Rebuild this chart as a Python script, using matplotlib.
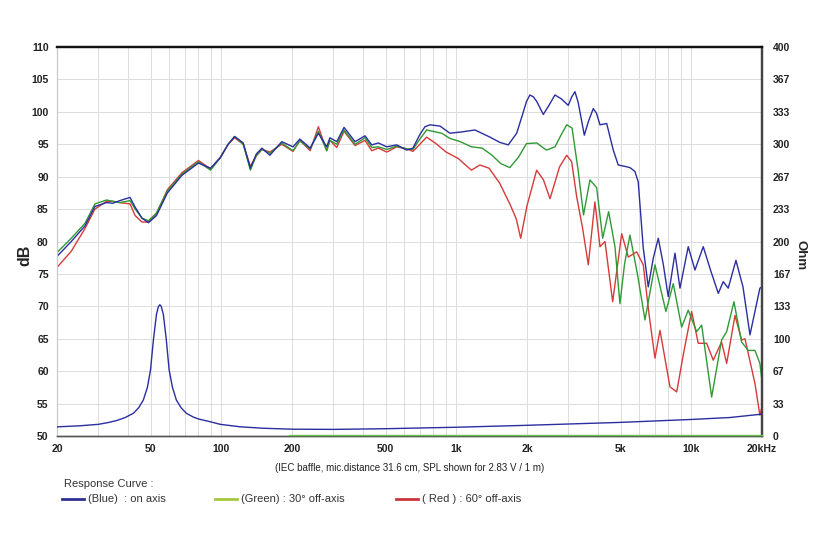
import numpy as np
import matplotlib
matplotlib.use("Agg")
import matplotlib.pyplot as plt
from matplotlib.ticker import FixedLocator, NullFormatter

# frequency response, dB SPL
blue_f = [20, 23, 26.3, 29, 32.5, 34.6, 37, 40.9, 43, 46,
          49, 53, 59, 68, 80, 90, 99, 107, 114, 124,
          133, 141, 149, 161, 181, 202, 216, 239, 259, 281,
          290, 310, 333, 371, 409, 437, 466, 506, 558, 615,
          654, 700, 736, 773, 853, 940, 1054, 1201, 1391, 1530,
          1664, 1808, 1930, 1990, 2058, 2130, 2200, 2346, 2480, 2630,
          2800, 2996, 3100, 3200, 3300, 3507, 3650, 3828, 3950, 4089,
          4366, 4657, 4889, 5200, 5484, 5759, 5947, 6248, 6562, 6900,
          7238, 7600, 7980, 8526, 8954, 9708, 10368, 11246, 12100, 13032,
          13680, 14365, 15492, 16600, 17777, 19590, 20000]
blue_db = [77.7, 80.0, 82.4, 85.4, 86.0, 85.9, 86.3, 86.8, 85.3, 83.6,
           82.9, 84.0, 87.5, 90.2, 92.1, 91.3, 92.9, 95.0, 96.2, 95.2,
           91.3, 93.5, 94.4, 93.3, 95.4, 94.6, 95.8, 94.4, 96.7, 94.6,
           96.0, 95.4, 97.6, 95.4, 96.3, 94.9, 95.2, 94.6, 94.9, 94.1,
           94.4, 96.5, 97.7, 98.0, 97.8, 96.7, 96.9, 97.2, 96.1, 95.3,
           94.9, 96.7, 100.0, 101.6, 102.6, 102.3, 101.6, 99.6, 101.0, 102.6,
           102.0, 101.0, 102.3, 103.1, 101.5, 96.4, 98.5, 100.5, 99.8, 98.0,
           98.2, 94.1, 91.8, 91.6, 91.4, 90.8, 89.2, 79.0, 73.0, 77.5,
           80.5, 76.5, 71.5, 78.2, 72.8, 79.2, 75.6, 79.2, 75.5, 72.0,
           73.8, 72.8, 77.1, 73.0, 65.6, 72.8, 73.0]

green_f = [20, 23, 26.3, 29, 32.5, 34.6, 37, 40.9, 43, 46,
           49, 53, 59, 68, 80, 90, 99, 107, 114, 124,
           133, 141, 149, 161, 181, 202, 216, 239, 259, 281,
           290, 310, 333, 371, 409, 437, 466, 506, 558, 615,
           654, 700, 748, 867, 940, 1040, 1160, 1290, 1420, 1550,
           1690, 1840, 1990, 2200, 2420, 2630, 2800, 2950, 3110, 3300,
           3480, 3706, 3958, 4198, 4450, 4735, 4972, 5200, 5484, 5900,
           6354, 7007, 7801, 8383, 9101, 9708, 10544, 11072, 12212, 13461,
           14148, 15192, 16376, 17482, 18666, 19590, 20000]
green_db = [78.3, 80.5, 82.8, 85.8, 86.4, 86.2, 86.0, 86.3, 85.0, 83.6,
            83.2, 84.4, 87.8, 90.4, 92.3, 91.0, 92.9, 95.0, 96.2, 95.0,
            91.0, 93.3, 94.2, 93.6, 95.2, 94.0, 95.5, 94.3, 97.0, 94.0,
            95.6, 95.0, 97.2, 95.0, 96.0, 94.5, 94.6, 94.2, 94.7, 94.3,
            94.2, 95.8, 97.2, 96.7, 95.9, 95.4, 94.6, 94.4, 93.3, 92.0,
            91.4, 93.0, 95.1, 95.2, 94.1, 94.6, 96.5, 98.0, 97.5, 91.0,
            84.1, 89.5, 88.3, 80.5, 84.6, 79.2, 70.4, 76.5, 81.0, 75.0,
            67.9, 76.4, 69.2, 73.5, 66.8, 69.4, 66.1, 67.1, 56.0, 64.8,
            66.1, 70.7, 64.5, 63.2, 63.2, 61.2, 58.5]

red_f = [20, 23, 26.3, 29, 32.5, 34.6, 37, 40.9, 43, 46,
         49, 53, 59, 68, 80, 90, 99, 107, 114, 124,
         133, 141, 149, 161, 181, 202, 216, 239, 259, 281,
         290, 310, 333, 371, 409, 437, 466, 506, 558, 615,
         654, 700, 748, 820, 905, 1020, 1160, 1260, 1380, 1530,
         1700, 1800, 1880, 2000, 2198, 2350, 2506, 2750, 2950, 3098,
         3254, 3450, 3646, 3891, 4089, 4294, 4630, 5057, 5396, 5857,
         6248, 6600, 7007, 7361, 8114, 8670, 9300, 10038, 10710, 11628,
         12404, 13461, 14148, 15348, 16376, 16929, 18666, 19590, 20000]
red_db = [76.0, 78.5, 82.0, 85.0, 86.2, 86.2, 86.0, 85.8, 84.0, 83.0,
          83.0, 84.3, 88.0, 90.6, 92.5, 91.2, 93.0, 95.0, 96.0, 95.0,
          91.6, 93.2, 94.2, 93.8, 95.0, 93.9, 95.6, 94.0, 97.7, 94.0,
          95.6, 94.5, 97.0, 94.8, 95.6, 94.0, 94.4, 93.8, 94.6, 94.3,
          93.9, 95.0, 96.1, 95.1, 93.8, 92.8, 91.0, 91.8, 91.3, 89.0,
          85.6, 83.5, 80.5, 85.5, 91.0, 89.5, 86.6, 91.5, 93.3, 92.3,
          86.9, 82.0, 76.4, 86.1, 79.2, 80.0, 70.7, 81.2, 77.6, 78.4,
          76.4, 69.0, 62.0, 66.3, 57.6, 56.8, 63.0, 69.2, 64.3, 64.3,
          61.7, 64.5, 61.2, 68.6, 64.8, 65.0, 58.1, 53.2, 54.5]

# impedance, ohm
imp_f = [20, 25, 30, 33, 36, 39, 42.3, 44.5, 46.6, 48.5, 50, 51.5, 53, 54, 54.8,
         55.6, 56.7, 58.3, 60, 62, 64.4, 67.5, 71, 76, 80, 89.6, 99,
         120, 150, 200, 300, 500, 1000, 2000, 5000, 10000, 14600, 20000]
imp_ohm = [9.4, 10.5, 12, 13.8, 16, 19, 23.4, 29, 37, 50, 68, 100, 125, 133, 135,
           133, 125, 100, 68, 50, 37, 29, 23.4, 19.5, 17.5, 14.7, 12,
           9.5, 8, 7, 6.8, 7.5, 9, 11, 14, 17, 19, 22.5]
imp2_f = [195, 20000]
imp2_ohm = [0.6, 0.6]

x_ticks = [20, 50, 100, 200, 500, 1000, 2000, 5000, 10000, 20000]
x_labels = ["20", "50", "100", "200", "500", "1k", "2k", "5k", "10k", "20kHz"]
db_ticks = list(range(50, 111, 5))
ohm_ticks = [400 / 12 * i for i in range(13)]
ohm_labels = ["0", "33", "67", "100", "133", "167", "200", "233", "267",
              "300", "333", "367", "400"]

fam = ["Liberation Sans Narrow", "Liberation Sans", "DejaVu Sans"]
plt.rcParams["font.family"] = fam

fig = plt.figure(figsize=(8.25, 5.5), dpi=100)
ax = fig.add_axes([57 / 825, 1 - 436 / 550, (762 - 57) / 825, (436 - 47) / 550])
ax.set_xscale("log")
ax.set_xlim(20, 20000)
ax.set_ylim(50, 110)
ax.set_yticks(db_ticks)
ax.set_xticks(x_ticks)
ax.set_xticklabels(x_labels)
minor = [m * d for d in (10, 100, 1000, 10000) for m in range(2, 10) if 20 < m * d < 20000]
ax.xaxis.set_minor_locator(FixedLocator(minor))
ax.xaxis.set_minor_formatter(NullFormatter())
ax.grid(which="both", color="#dcdcdc", lw=0.7)
ax.set_axisbelow(True)
ax.tick_params(which="both", length=0, labelsize=7.5, labelcolor="#222222", pad=6)
for lab in ax.get_xticklabels() + ax.get_yticklabels():
    lab.set_fontweight("bold")

ax.plot(red_f, red_db, color="#d8393a", lw=1.0, zorder=3)
ax.plot(green_f, green_db, color="#2f9a34", lw=1.0, zorder=4)
ax.plot(blue_f, blue_db, color="#2a2ea0", lw=1.0, zorder=5)

ax2 = ax.twinx()
ax2.set_ylim(0, 400)
ax2.set_yticks(ohm_ticks)
ax2.set_yticklabels(ohm_labels)
ax2.tick_params(length=0, labelsize=7.5, labelcolor="#222222", pad=8)
for lab in ax2.get_yticklabels():
    lab.set_fontweight("bold")
ax2.plot(imp_f, imp_ohm, color="#2a2ea0", lw=1.0, zorder=5)
ax2.plot(imp2_f, imp2_ohm, color="#6cc24a", lw=1.0, zorder=5, clip_on=False)

for a in (ax, ax2):
    a.spines["top"].set_color("#111111")
    a.spines["top"].set_linewidth(1.6)
    a.spines["left"].set_color("#c8c8c8")
    a.spines["left"].set_linewidth(0.8)
    a.spines["right"].set_color("#444444")
    a.spines["right"].set_linewidth(1.6)
    a.spines["bottom"].set_color("#555555")
    a.spines["bottom"].set_linewidth(1.0)

fig.text(25 / 825, 1 - 255 / 550, "dB", rotation=90, fontsize=11.5, fontweight="bold",
         ha="center", va="center", family=["Liberation Sans", "DejaVu Sans"], color="#222222")
fig.text(801 / 825, 1 - 255 / 550, "Ohm", rotation=270, fontsize=9.5, fontweight="bold",
         ha="center", va="center", family=["Liberation Sans", "DejaVu Sans"], color="#222222")

fig.text(410 / 825, 1 - 468 / 550, "(IEC baffle, mic.distance 31.6 cm, SPL shown for 2.83 V / 1 m)",
         fontsize=7, ha="center", va="center", color="#222222")

lf = ["Liberation Sans", "DejaVu Sans"]
fig.text(64 / 825, 1 - 484 / 550, "Response Curve :", fontsize=8, ha="left", va="center",
         family=lf, color="#333333")
legend_items = [(62, "#2e3192", "(Blue)  : on axis"),
                (215, "#a6c73a", "(Green) : 30\u00b0 off-axis"),
                (396, "#c8363c", "( Red ) : 60\u00b0 off-axis")]
for x0, col, txt in legend_items:
    yy = 1 - 499 / 550
    fig.add_artist(plt.Line2D([x0 / 825, (x0 + 22) / 825], [yy, yy], color=col, lw=2.0))
    fig.text((x0 + 26) / 825, yy, txt, fontsize=8, ha="left", va="center", family=lf, color="#333333")

fig.savefig("out.png", dpi=100)
